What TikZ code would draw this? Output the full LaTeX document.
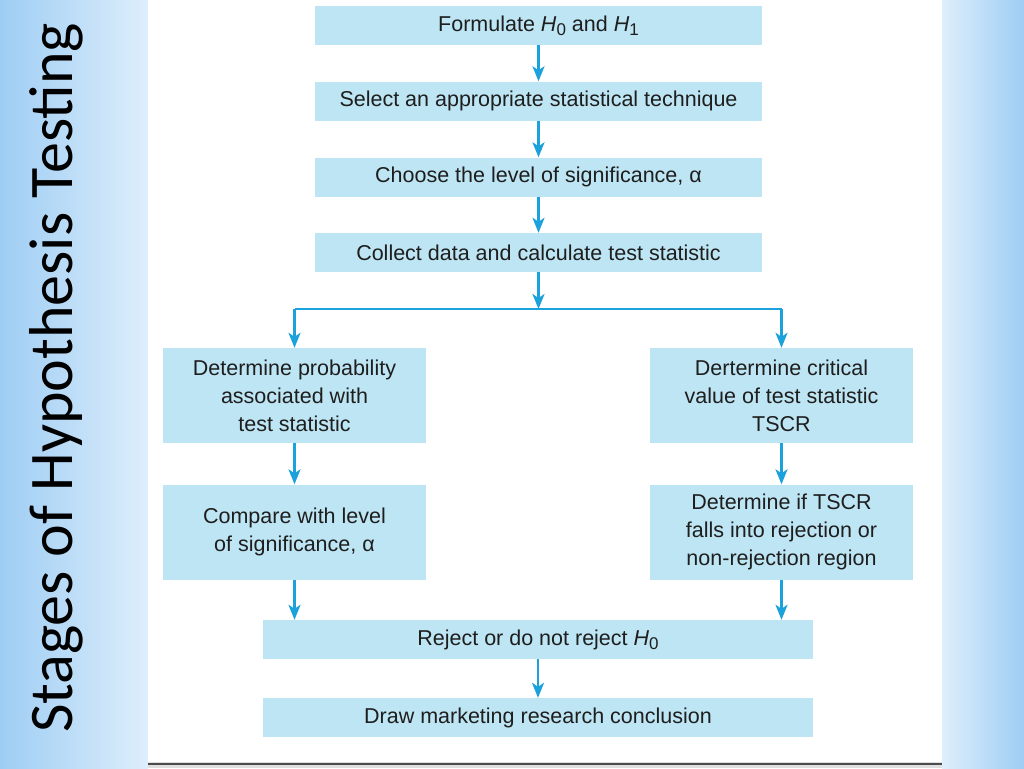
\documentclass[tikz,border=0pt]{standalone}
\usepackage{fontspec}
\setmainfont{Liberation Sans}
\newfontfamily\titlefont{Carlito}
\usetikzlibrary{arrows.meta}
\definecolor{boxfill}{RGB}{190,229,243}
\definecolor{arrowc}{RGB}{27,161,219}
\definecolor{bgdark}{RGB}{158,205,244}
\definecolor{bglight}{RGB}{222,238,251}
\definecolor{txt}{RGB}{30,30,30}
\newcommand{\Hsub}[1]{{\itshape H}\raisebox{-0.35ex}{\fontsize{17}{17}\selectfont #1}}
\begin{document}
\begin{tikzpicture}[x=1pt,y=-1pt,
  stepbox/.style={fill=boxfill, draw=none, inner sep=0pt, align=center,
    font=\fontsize{21.5}{28}\selectfont, text=txt},
  widebox/.style={stepbox, minimum width=447, minimum height=39},
  sidebox/.style={stepbox, minimum width=263, minimum height=95},
  lowbox/.style={stepbox, minimum width=550, minimum height=39},
  flow/.style={draw=arrowc, line width=2.2pt, -{Stealth[length=15pt,width=12pt,inset=4pt]}},
  link/.style={draw=arrowc, line width=2.2pt},
]
\useasboundingbox (0,0) rectangle (1024,768);
% background
\shade[left color=bgdark, right color=bglight] (0,0) rectangle (148,768);
\shade[left color=bglight, right color=bgdark] (942,0) rectangle (1024,768);
\fill[white] (148,0) rectangle (942,762);
\fill[gray!25] (148,762) rectangle (942,768);
\draw[black!70, line width=2.5pt] (148,764) -- (942,764);

% title
\node[rotate=90, anchor=base, inner sep=0pt, text=black,
  font=\titlefont\fontsize{62}{62}\selectfont] (title) at (72,378) {Stages of Hypothesis Testing};

% boxes
\node[widebox] (f1) at (538.5,25.5) {Formulate \Hsub{0} and \Hsub{1}};
\node[widebox] (f2) at (538.5,101) {Select an appropriate statistical technique};
\node[widebox] (f3) at (538.5,177) {Choose the level of significance, α};
\node[widebox] (f4) at (538.5,252.5) {Collect data and calculate test statistic};

\node[sidebox] (l1) at (294.5,395.5) {Determine probability\\associated with\\test statistic};
\node[sidebox] (l2) at (294.5,532) {Compare with level\\of significance, α};
\node[sidebox] (r1) at (781.5,395.5) {Dertermine critical\\value of test statistic\\TSCR};
\node[sidebox] (r2) at (781.5,532) {Determine if TSCR\\falls into rejection or\\non-rejection region};

\node[lowbox] (rej) at (538,639.5) {Reject or do not reject \Hsub{0}};
\node[lowbox] (con) at (538,717.5) {Draw marketing research conclusion};

% connectors
\coordinate (split) at (538.5,309);
\draw[flow] (f1) -- (f2);
\draw[flow] (f2) -- (f3);
\draw[flow] (f3) -- (f4);
\draw[flow] (f4) -- (split);
\draw[link] (l1.north |- split) -- (r1.north |- split);
\draw[flow] (l1.north |- split) -- (l1.north);
\draw[flow] (r1.north |- split) -- (r1.north);
\draw[flow] (l1) -- (l2);
\draw[flow] (r1) -- (r2);
\draw[flow] (l2.south) -- (l2.south |- rej.north);
\draw[flow] (r2.south) -- (r2.south |- rej.north);
\draw[flow] (rej) -- (con);
\end{tikzpicture}
\end{document}
